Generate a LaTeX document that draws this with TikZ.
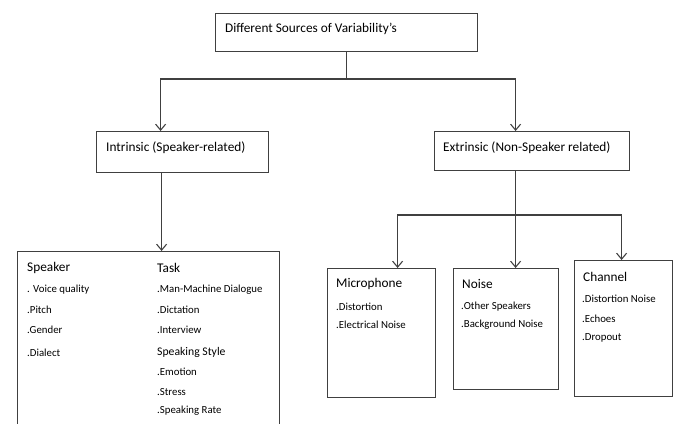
\documentclass[tikz,border=0pt]{standalone}
\usepackage{fontspec}
\setmainfont{Carlito}
\usetikzlibrary{arrows.meta}

\begin{document}
\begin{tikzpicture}[
            x = 1pt, y = -1pt,
            box/.style={draw=black!75, line width=1.2pt, anchor=north west, inner sep=0pt},
            head/.style={anchor=west, inner sep=0pt, font=\fontsize{13.3}{15}\selectfont},
            item/.style={anchor=west, inner sep=0pt, font=\fontsize{10.8}{12}\selectfont},
            line/.style={draw=black!75, line width=1.1pt},
            arrow/.style={line, -{Straight Barb[length=6pt, width=10pt]}},
            ]
        \useasboundingbox (0,0) rectangle (674,423);

        % boxes
        \node[box, minimum width=262, minimum height=38] (top) at (215,13) {};
        \node[box, minimum width=172, minimum height=41] (intr) at (96,131) {};
        \node[box, minimum width=195, minimum height=39] (extr) at (434,131) {};
        \node[box, minimum width=262, minimum height=200] (low) at (17,251) {};
        \node[box, minimum width=108, minimum height=129] (mic) at (327,268) {};
        \node[box, minimum width=105, minimum height=121] (noise) at (453,268) {};
        \node[box, minimum width=98, minimum height=136] (chan) at (574,260) {};

        % titles
        \node[head] (toptxt) at (225,29) {Different Sources of Variability’s};
        \node[head] (intrtxt) at (106,148) {Intrinsic (Speaker-related)};
        \node[head] (extrtxt) at (443,148) {Extrinsic (Non-Speaker related)};

        \node[head] (spk) at (27,268) {Speaker};
        \foreach \t/\y [count=\i] in {. Voice quality/290, .Pitch/310, .Gender/330, .Dialect/353}
            \node[item] (spk\i) at (27,\y) {\t};

        \node[head] (task) at (157,268) {Task};
        \foreach \t/\y [count=\i] in {.Man-Machine Dialogue/290, .Dictation/310, .Interview/330}
            \node[item] (task\i) at (157,\y) {\t};
        \node[item, font=\fontsize{11.7}{13}\selectfont] (style) at (157,352) {Speaking Style};
        \foreach \t/\y [count=\i] in {.Emotion/372, .Stress/392, .Speaking Rate/411}
            \node[item] (style\i) at (157,\y) {\t};

        \node[head] (mictxt) at (336,284) {Microphone};
        \foreach \t/\y [count=\i] in {.Distortion/307, .Electrical Noise/325}
            \node[item] (mic\i) at (336,\y) {\t};

        \node[head] (noisetxt) at (462,284) {Noise};
        \foreach \t/\y [count=\i] in {.Other Speakers/307, .Background Noise/325}
            \node[item] (noise\i) at (461,\y) {\t};

        \node[head] (chantxt) at (583,277) {Channel};
        \foreach \t/\y [count=\i] in {.Distortion Noise/299, .Echoes/319, .Dropout/338}
            \node[item] (chan\i) at (582,\y) {\t};

        % connectors
        \coordinate (topsplit) at (top.south |- 0,79);
        \coordinate (extsplit) at ([xshift=-16.5]extr.south |- 0,215);
        \draw[line] (top.south) -- (topsplit);
        \draw[arrow] (topsplit) -| ([xshift=-22]intr.north);
        \draw[arrow] (topsplit) -| ([xshift=-16.5]extr.north);
        \draw[arrow] ([xshift=-21]intr.south) -- ([xshift=-21]intr.south |- low.north);
        \draw[arrow] ([xshift=-16.5]extr.south) -- (extsplit |- noise.north);
        \draw[arrow] (extsplit) -| ([xshift=16]mic.north);
        \draw[arrow] (extsplit) -| ([xshift=-2]chan.north);
    \end{tikzpicture}
\end{document}
